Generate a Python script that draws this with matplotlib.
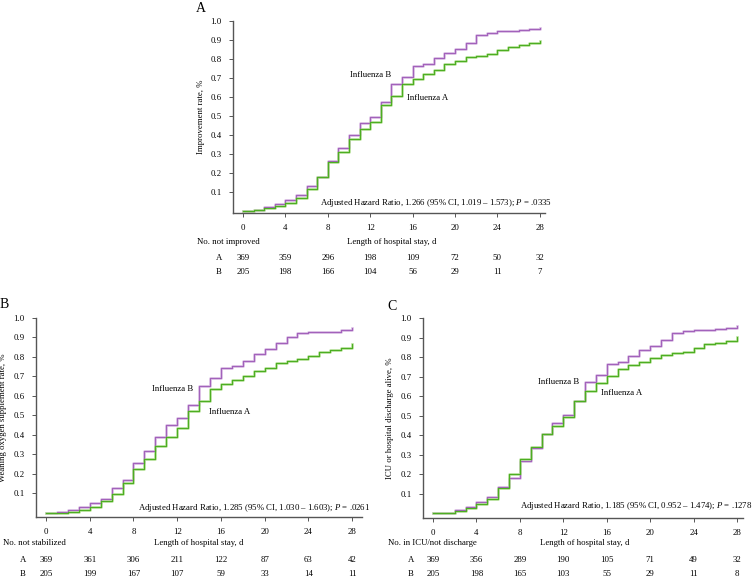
import matplotlib
matplotlib.use("Agg")
import matplotlib.pyplot as plt
import matplotlib.transforms as mtrans
import numpy as np

plt.rcParams['font.family'] = ['Liberation Serif', 'DejaVu Serif']
plt.rcParams['mathtext.fontset'] = 'custom'
plt.rcParams['mathtext.rm'] = 'Liberation Serif'
plt.rcParams['mathtext.it'] = 'Liberation Serif:italic'

days = np.arange(29)
tick_days = [0, 4, 8, 12, 16, 20, 24, 28]

# panel A: improvement
impr_b = [0.0, 0.004, 0.018, 0.035, 0.056, 0.08, 0.13, 0.18, 0.262, 0.332, 0.40, 0.46, 0.495, 0.571, 0.668,
          0.705, 0.763, 0.773, 0.807, 0.833, 0.854, 0.886, 0.928, 0.938, 0.946, 0.946, 0.951, 0.958, 0.963]
impr_a = [0.0, 0.002, 0.012, 0.025, 0.042, 0.065, 0.116, 0.176, 0.255, 0.311, 0.378, 0.43, 0.469, 0.555, 0.606,
          0.67, 0.696, 0.72, 0.743, 0.772, 0.789, 0.808, 0.817, 0.824, 0.845, 0.865, 0.875, 0.884, 0.896]
risk_impr_a = [369, 359, 296, 198, 109, 72, 50, 32]
risk_impr_b = [205, 198, 166, 104, 56, 29, 11, 7]

# panel B: weaning oxygen
wean_b = [0.0, 0.004, 0.015, 0.028, 0.049, 0.069, 0.126, 0.168, 0.255, 0.315, 0.389, 0.448, 0.484, 0.551, 0.648,
          0.689, 0.74, 0.754, 0.78, 0.814, 0.841, 0.869, 0.903, 0.92, 0.925, 0.925, 0.928, 0.935, 0.945]
wean_a = [0.0, 0.001, 0.005, 0.015, 0.032, 0.059, 0.095, 0.155, 0.223, 0.278, 0.343, 0.39, 0.435, 0.522, 0.575,
          0.633, 0.659, 0.681, 0.701, 0.727, 0.74, 0.77, 0.78, 0.787, 0.804, 0.822, 0.834, 0.843, 0.865]
risk_wean_a = [369, 361, 306, 211, 122, 87, 63, 42]
risk_wean_b = [205, 199, 167, 107, 59, 33, 14, 11]

# panel C: ICU / discharge
icu_b = [0.0, 0.004, 0.015, 0.032, 0.056, 0.083, 0.133, 0.179, 0.271, 0.337, 0.406, 0.465, 0.503, 0.576, 0.674,
         0.71, 0.764, 0.778, 0.809, 0.836, 0.858, 0.887, 0.926, 0.935, 0.94, 0.94, 0.947, 0.95, 0.96]
icu_a = [0.0, 0.001, 0.011, 0.027, 0.049, 0.074, 0.132, 0.202, 0.279, 0.342, 0.406, 0.45, 0.496, 0.576, 0.627,
         0.67, 0.704, 0.738, 0.759, 0.776, 0.795, 0.812, 0.824, 0.828, 0.846, 0.866, 0.875, 0.885, 0.902]
risk_icu_a = [369, 356, 289, 190, 105, 71, 49, 32]
risk_icu_b = [205, 198, 165, 103, 55, 29, 11, 8]

W, H = 753, 580
fig = plt.figure(figsize=(W / 100, H / 100), dpi=100)

PUR, PUR_L = '#a262bb', '#dcc2e6'
GRN, GRN_L = '#4cae22', '#bce3a0'
FS = 6.3


def fx(px):
    return px / W


def fy(py):
    return 1 - py / H


def panel(box, xlim, ylow, vals_a, vals_b, ylabel, letter, letter_xy, lab_b, lab_a, hr, hr_xy,
          risk_title, risk_a, risk_b, tbl_x, tbl_y):
    l, t, r, b = box
    ax = fig.add_axes([fx(l), fy(b), fx(r - l), (b - t) / H])
    ax.step(days, vals_b, where='post', color=PUR_L, lw=1.9, zorder=2)
    ax.step(days, vals_a, where='post', color=GRN_L, lw=1.9, zorder=2)
    ax.step(days, vals_b, where='post', color=PUR, lw=0.85, zorder=3)
    ax.step(days, vals_a, where='post', color=GRN, lw=0.85, zorder=3)
    ax.set_xlim(*xlim)
    ax.set_ylim(ylow, 1.0)
    ax.set_xticks(tick_days)
    ax.set_yticks(np.arange(1, 11) / 10)
    ax.set_yticklabels(['%.1f' % v for v in np.arange(1, 11) / 10])
    for s in ['top', 'right']:
        ax.spines[s].set_visible(False)
    for s in ['left', 'bottom']:
        ax.spines[s].set_linewidth(1.0)
        ax.spines[s].set_color('#555555')
    ax.tick_params(direction='out', length=3, width=0.7, color='#555555', labelsize=FS, pad=5)
    ax.set_ylabel(ylabel, fontsize=FS)
    ax.yaxis.set_label_coords(-0.09, 0.5)
    ax.text(lab_b[0], lab_b[1], 'Influenza B', fontsize=FS, ha='right', va='center')
    ax.text(lab_a[0], lab_a[1], 'Influenza A', fontsize=FS, ha='left', va='center')
    ax.text(hr_xy[0], hr_xy[1], hr, fontsize=FS, ha='right', va='center')
    fig.text(fx(letter_xy[0]), fy(letter_xy[1]), letter, fontsize=10, ha='left', va='center')

    # number at risk table
    tr = mtrans.blended_transform_factory(ax.transData, fig.transFigure)
    fig.text(fx(tbl_x[0]), fy(tbl_y[0]), risk_title, fontsize=FS, ha='left', va='center')
    ax.text(14, fy(tbl_y[0]), 'Length of hospital stay, d', transform=tr, fontsize=FS,
            ha='center', va='center')
    fig.text(fx(tbl_x[1]), fy(tbl_y[1]), 'A', fontsize=FS, ha='center', va='center')
    fig.text(fx(tbl_x[1]), fy(tbl_y[2]), 'B', fontsize=FS, ha='center', va='center')
    for d, na, nb in zip(tick_days, risk_a, risk_b):
        ax.text(d, fy(tbl_y[1]), str(na), transform=tr, fontsize=FS, ha='center', va='center')
        ax.text(d, fy(tbl_y[2]), str(nb), transform=tr, fontsize=FS, ha='center', va='center')
    return ax


panel((233, 21, 545, 213.3), (-0.94, 28.5), -0.014, impr_a, impr_b,
      'Improvement rate, %', 'A', (196, 8), (14.0, 0.715), (15.5, 0.596),
      'Adjusted Hazard Ratio, 1.266 (95% CI, 1.019 \u2013 1.573); $\\it{P}$ = .0335', (29.2, 0.042),
      'No. not improved', risk_impr_a, risk_impr_b, (197, 219), (242, 257.5, 271.7))

panel((36, 317.7, 362, 517.3), (-0.91, 28.9), -0.023, wean_a, wean_b,
      'Weaning oxygen supplement rate, %', 'B', (0, 305), (13.45, 0.633), (14.9, 0.515),
      'Adjusted Hazard Ratio, 1.285 (95% CI, 1.030 \u2013 1.603); $\\it{P}$ = .0261', (29.7, 0.027),
      'No. not stabilized', risk_wean_a, risk_wean_b, (3, 23), (543, 560, 573.5))

panel((423, 318.3, 743, 518.3), (-0.92, 28.55), -0.025, icu_a, icu_b,
      'ICU or hospital discharge alive, %', 'C', (387, 306), (13.5, 0.675), (15.5, 0.619),
      'Adjusted Hazard Ratio, 1.185 (95% CI, 0.952 \u2013 1.474); $\\it{P}$ = .1278', (29.4, 0.039),
      'No. in ICU/not discharge', risk_icu_a, risk_icu_b, (388, 411), (543, 560, 573.5))

fig.savefig('out.png', dpi=100)
